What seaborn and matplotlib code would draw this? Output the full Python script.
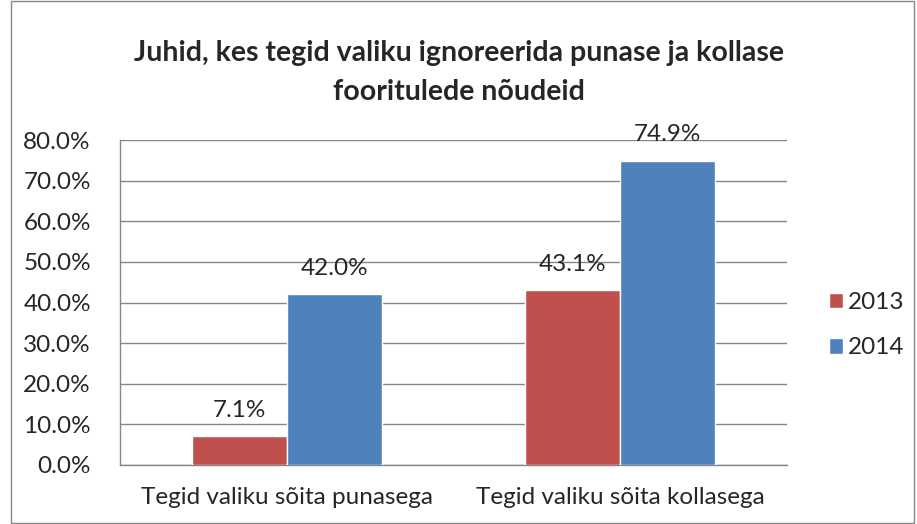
import pandas as pd
import seaborn as sns
import matplotlib.pyplot as plt
from matplotlib.patches import Rectangle

# andmed
kategooriad = ["Tegid valiku sõita punasega", "Tegid valiku sõita kollasega"]
aastad = ["2013", "2014"]
v2013 = [7.1, 43.1]
v2014 = [42.0, 74.9]

df = pd.DataFrame({
    "kategooria": kategooriad * 2,
    "aasta": [aastad[0]] * 2 + [aastad[1]] * 2,
    "vaartus": v2013 + v2014,
})

sns.set_style("white")
plt.rcParams["font.family"] = ["Lato", "DejaVu Sans"]

fig = plt.figure(figsize=(9.17, 5.24), dpi=100)
ax = fig.add_axes([0.1309, 0.1126, 0.7273, 0.6202])

sns.barplot(data=df, x="kategooria", y="vaartus", hue="aasta",
            palette=["#C0504D", "#4F81BD"], width=0.57, saturation=1,
            ax=ax, zorder=3)

ax.set_ylim(0, 80)
ax.set_xlim(-0.5, 1.5)
ax.set_yticks(range(0, 81, 10))
ax.set_yticklabels([f"{t:.1f}%" for t in range(0, 81, 10)], fontsize=17.5)
ax.set_xticklabels(kategooriad, fontsize=17.5)
ax.set_xlabel("")
ax.set_ylabel("")

ax.yaxis.grid(True, color="#868686", linewidth=1, zorder=0)
ax.set_axisbelow(True)
for s in ["top", "right"]:
    ax.spines[s].set_visible(False)
for s in ["left", "bottom"]:
    ax.spines[s].set_color("#868686")
    ax.spines[s].set_linewidth(1)

ax.tick_params(axis="y", length=9, color="#868686", direction="out", pad=12)
ax.tick_params(axis="x", which="major", length=0, pad=16)
ax.set_xticks([-0.5, 0.5, 1.5], minor=True)
ax.tick_params(axis="x", which="minor", length=8, color="#868686", direction="out")

# väärtuste sildid
for cont in ax.containers:
    ax.bar_label(cont, labels=[f"{b.get_height():.1f}%" for b in cont],
                 padding=11, fontsize=17.5)

leg = ax.legend(loc="center left", bbox_to_anchor=(1.03, 0.43), frameon=False,
                fontsize=17.5, handlelength=0.6, handleheight=0.6,
                handletextpad=0.2, labelspacing=1.0)

fig.text(0.5, 0.862, "Juhid, kes tegid valiku ignoreerida punase ja kollase\nfooritulede nõudeid",
         ha="center", va="center", fontsize=20.5, fontweight="bold", linespacing=1.6)

# välimine raam
fig.patches.append(Rectangle((0.012, 0.002), 0.985, 0.996, transform=fig.transFigure,
                             fill=False, edgecolor="#868686", linewidth=1))

plt.savefig("out.png", dpi=100)
